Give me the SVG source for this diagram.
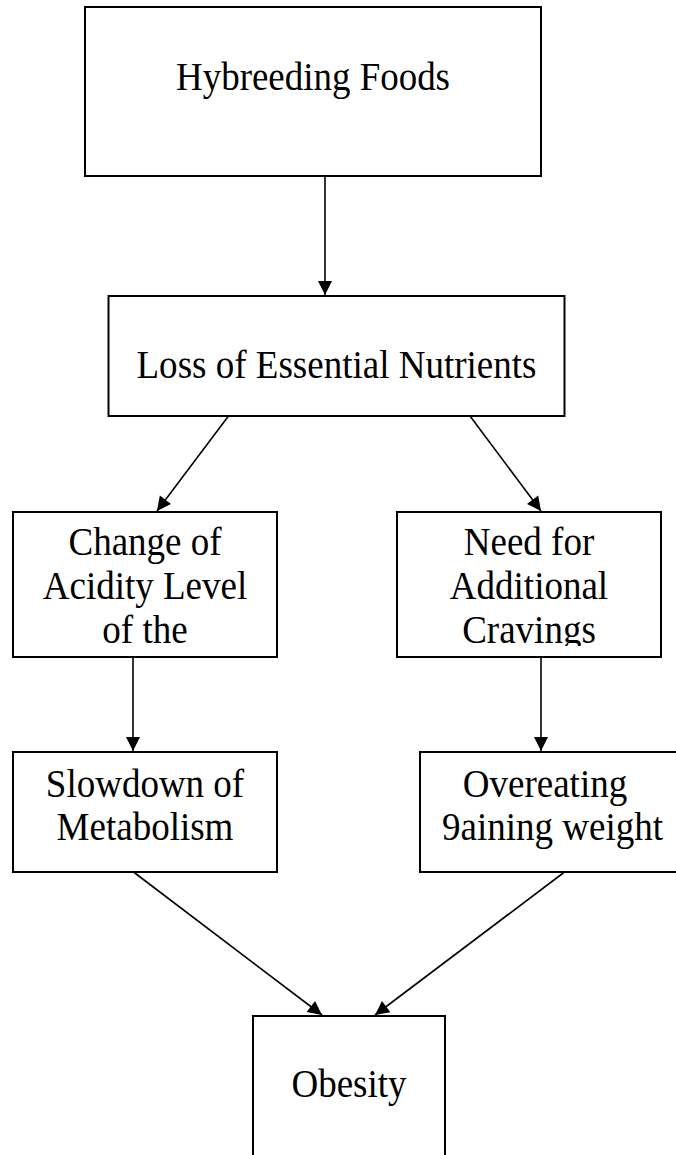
<svg xmlns="http://www.w3.org/2000/svg" width="676" height="1155" viewBox="0 0 676 1155">
  <style>
    .box { fill: #ffffff; stroke: #000000; stroke-width: 2; }
    .lbl { font-family: "Liberation Serif", "Times New Roman", serif; font-size: 39px; fill: #000000; text-anchor: middle; }
    .edge { stroke: #000000; stroke-width: 1.6; fill: none; marker-end: url(#head); }
  </style>
  <defs>
    <marker id="head" markerUnits="userSpaceOnUse" markerWidth="16" markerHeight="16" viewBox="0 0 16 16" refX="15" refY="8" orient="auto">
      <path d="M1,1 L15,8 L1,15 Z" fill="#000000"/>
    </marker>
    <clipPath id="clipNeed">
      <rect x="397" y="512" width="264" height="134"/>
    </clipPath>
    <clipPath id="clipAcid">
      <rect x="13" y="512" width="264" height="134"/>
    </clipPath>
  </defs>
  <rect width="676" height="1155" fill="#ffffff"/>

  <g id="connectors">
    <line class="edge" x1="325" y1="176" x2="325" y2="295"/>
    <line class="edge" x1="228.5" y1="416" x2="157" y2="511"/>
    <line class="edge" x1="470" y1="416" x2="541" y2="511"/>
    <line class="edge" x1="133" y1="657" x2="133" y2="751"/>
    <line class="edge" x1="541" y1="657" x2="541" y2="751"/>
    <line class="edge" x1="133.5" y1="872" x2="322" y2="1015"/>
    <line class="edge" x1="564.5" y1="872" x2="375" y2="1015"/>
  </g>

  <g id="hybreeding-foods">
    <rect class="box" x="85" y="7" width="456" height="169"/>
    <text class="lbl" x="313" y="89.5" textLength="274" lengthAdjust="spacingAndGlyphs">Hybreeding Foods</text>
  </g>

  <g id="loss-of-nutrients">
    <rect class="box" x="108.5" y="296" width="456" height="120"/>
    <text class="lbl" x="336.5" y="378" textLength="400" lengthAdjust="spacingAndGlyphs">Loss of Essential Nutrients</text>
  </g>

  <g id="change-of-acidity">
    <rect class="box" x="13" y="512" width="264" height="145"/>
    <g clip-path="url(#clipAcid)">
      <text class="lbl" x="145" y="555" textLength="153" lengthAdjust="spacingAndGlyphs">Change of</text>
      <text class="lbl" x="145" y="599" textLength="204.5" lengthAdjust="spacingAndGlyphs">Acidity Level</text>
      <text class="lbl" x="145" y="642.5" textLength="85.3" lengthAdjust="spacingAndGlyphs">of the</text>
    </g>
  </g>

  <g id="need-for-cravings">
    <rect class="box" x="397" y="512" width="264" height="145"/>
    <g clip-path="url(#clipNeed)">
      <text class="lbl" x="529" y="555" textLength="130.5" lengthAdjust="spacingAndGlyphs">Need for</text>
      <text class="lbl" x="529" y="599" textLength="158.3" lengthAdjust="spacingAndGlyphs">Additional</text>
      <text class="lbl" x="529" y="642.5" textLength="133.6" lengthAdjust="spacingAndGlyphs">Cravings</text>
    </g>
  </g>

  <g id="slowdown-metabolism">
    <rect class="box" x="13" y="752" width="264" height="120"/>
    <text class="lbl" x="145" y="797" textLength="198.4" lengthAdjust="spacingAndGlyphs">Slowdown of</text>
    <text class="lbl" x="145" y="840" textLength="176.8" lengthAdjust="spacingAndGlyphs">Metabolism</text>
  </g>

  <g id="overeating">
    <rect class="box" x="420" y="752" width="258" height="120"/>
    <text class="lbl" x="545" y="797" textLength="164.4" lengthAdjust="spacingAndGlyphs">Overeating</text>
    <text class="lbl" x="552.5" y="840" textLength="221" lengthAdjust="spacingAndGlyphs">9aining weight</text>
  </g>

  <g id="obesity">
    <rect class="box" x="253" y="1016" width="192" height="180"/>
    <text class="lbl" x="349" y="1097" textLength="115" lengthAdjust="spacingAndGlyphs">Obesity</text>
  </g>
</svg>
